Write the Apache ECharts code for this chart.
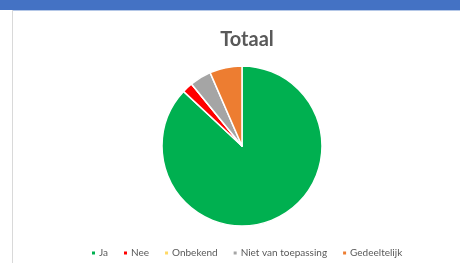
<!DOCTYPE html>
<html>
<head>
<meta charset="utf-8">
<script src="https://cdn.jsdelivr.net/npm/echarts@6/dist/echarts.min.js"></script>
<style>
  html, body { margin: 0; padding: 0; background: #fff; }
  #chart { width: 460px; height: 263px; }
</style>
</head>
<body>
<div id="chart"></div>
<script>
// Totaal - taartdiagram
var categories = ['Ja', 'Nee', 'Onbekend', 'Niet van toepassing', 'Gedeeltelijk'];
var values = [40, 1, 0, 2, 3];
var colors = ['#00B050', '#FF0000', '#FFD966', '#A5A5A5', '#ED7D31'];

var data = categories.map(function (name, i) {
    return { name: name, value: values[i], itemStyle: { color: colors[i] } };
});

var myChart = echarts.init(document.getElementById('chart'), null, { renderer: 'canvas' });

var option = {
    backgroundColor: '#fff',
    animation: false,
    title: {
        text: 'Totaal',
        left: 242,
        textAlign: 'center',
        top: 25,
        textStyle: {
            fontFamily: 'Lato',
            fontSize: 20,
            fontWeight: 'bold',
            color: '#595959'
        }
    },
    legend: {
        bottom: 0,
        left: 85,
        icon: 'rect',
        itemWidth: 5,
        itemHeight: 5,
        itemGap: 14,
        data: categories,
        textStyle: {
            fontFamily: 'Lato',
            fontSize: 10,
            color: '#595959',
            padding: [0, 0, 0, -2]
        }
    },
    graphic: [
        { type: 'rect', shape: { x: 0, y: 0, width: 460, height: 10 }, style: { fill: '#4472C4' }, silent: true },
        { type: 'rect', shape: { x: 12, y: 10, width: 448, height: 1 }, style: { fill: '#B4C7E7' }, silent: true },
        { type: 'rect', shape: { x: 12, y: 10, width: 1, height: 253 }, style: { fill: '#D9D9D9' }, silent: true }
    ],
    series: [
        {
            type: 'pie',
            center: [242, 146],
            radius: [0, 80],
            startAngle: 90,
            clockwise: true,
            label: { show: false },
            labelLine: { show: false },
            itemStyle: { borderColor: '#fff', borderWidth: 1.5 },
            emphasis: { disabled: true },
            data: data
        }
    ]
};

myChart.setOption(option);
</script>
</body>
</html>
